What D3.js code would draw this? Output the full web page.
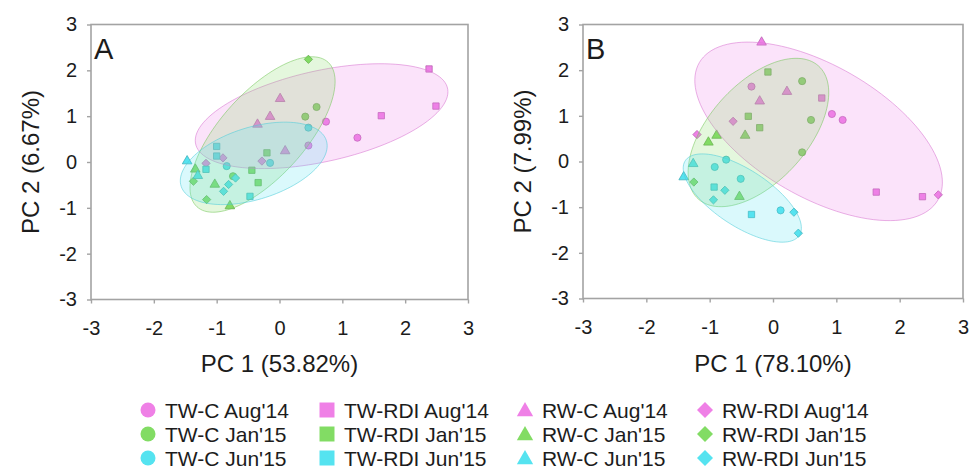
<!DOCTYPE html>
<html>
<head>
<meta charset="utf-8">
<script src="https://cdn.jsdelivr.net/npm/d3@7"></script>
<style>
  body { margin: 0; background: #fff; }
  text { font-family: "Liberation Sans", Arial, sans-serif; fill: #1c1c1c; }
</style>
</head>
<body>
<svg id="chart" width="973" height="473"></svg>
<script>
const groups = ["TW-C", "TW-RDI", "RW-C", "RW-RDI"];
const dates = ["Aug'14", "Jan'15", "Jun'15"];
const ticks = [-3, -2, -1, 0, 1, 2, 3];
const dateColors = ["#ef80e6", "#82dc64", "#55e3f0"];

// [group, date, PC1, PC2]
const scoresA = [
  ["TW-C", "Aug'14", 1.24, 0.53], ["TW-C", "Aug'14", 0.74, 0.88], ["TW-C", "Aug'14", 0.46, 0.36],
  ["TW-RDI", "Aug'14", 2.38, 2.03], ["TW-RDI", "Aug'14", 2.49, 1.22], ["TW-RDI", "Aug'14", 1.62, 1.01],
  ["RW-C", "Aug'14", 0.01, 1.38], ["RW-C", "Aug'14", -0.15, 0.99], ["RW-C", "Aug'14", -0.35, 0.82], ["RW-C", "Aug'14", 0.09, 0.24],
  ["RW-RDI", "Aug'14", -0.28, 0.02], ["RW-RDI", "Aug'14", -0.90, 0.09], ["RW-RDI", "Aug'14", -1.17, -0.03],
  ["TW-C", "Jan'15", 0.59, 1.20], ["TW-C", "Jan'15", 0.41, 0.99], ["TW-C", "Jan'15", -0.74, -0.31],
  ["TW-RDI", "Jan'15", -0.20, 0.20], ["TW-RDI", "Jan'15", -0.44, -0.18], ["TW-RDI", "Jan'15", -0.34, -0.45],
  ["RW-C", "Jan'15", -0.79, -0.96], ["RW-C", "Jan'15", -1.03, -0.49], ["RW-C", "Jan'15", -1.34, -0.16],
  ["RW-RDI", "Jan'15", 0.46, 2.24], ["RW-RDI", "Jan'15", -1.37, -0.42], ["RW-RDI", "Jan'15", -1.16, -0.82],
  ["TW-C", "Jun'15", -0.84, -0.09], ["TW-C", "Jun'15", -0.15, -0.02], ["TW-C", "Jun'15", 0.46, 0.75],
  ["TW-RDI", "Jun'15", -1.00, 0.34], ["TW-RDI", "Jun'15", -1.00, 0.13], ["TW-RDI", "Jun'15", -1.17, -0.16], ["TW-RDI", "Jun'15", -0.47, -0.75],
  ["RW-C", "Jun'15", -1.47, 0.02], ["RW-C", "Jun'15", -1.30, -0.30],
  ["RW-RDI", "Jun'15", -0.89, -0.64], ["RW-RDI", "Jun'15", -0.81, -0.49], ["RW-RDI", "Jun'15", -0.70, -0.35]
];

const scoresB = [
  ["TW-C", "Aug'14", -0.34, 1.64], ["TW-C", "Aug'14", 0.93, 1.04], ["TW-C", "Aug'14", 1.10, 0.91],
  ["TW-RDI", "Aug'14", 0.77, 1.39], ["TW-RDI", "Aug'14", 1.63, -0.67], ["TW-RDI", "Aug'14", 2.36, -0.77],
  ["RW-C", "Aug'14", -0.18, 2.61], ["RW-C", "Aug'14", 0.22, 1.53], ["RW-C", "Aug'14", -0.21, 1.32],
  ["RW-RDI", "Aug'14", -0.63, 0.88], ["RW-RDI", "Aug'14", -1.20, 0.59], ["RW-RDI", "Aug'14", 2.61, -0.73],
  ["TW-C", "Jan'15", 0.46, 1.76], ["TW-C", "Jan'15", 0.60, 0.91], ["TW-C", "Jan'15", 0.46, 0.20],
  ["TW-RDI", "Jan'15", -0.08, 1.96], ["TW-RDI", "Jan'15", -0.39, 0.99], ["TW-RDI", "Jan'15", -0.21, 0.74],
  ["RW-C", "Jan'15", -0.44, 0.57], ["RW-C", "Jan'15", -0.89, 0.57], ["RW-C", "Jan'15", -1.02, 0.42], ["RW-C", "Jan'15", -0.53, -0.77],
  ["RW-RDI", "Jan'15", -1.25, -0.45],
  ["TW-C", "Jun'15", -0.92, -0.12], ["TW-C", "Jun'15", -0.74, 0.04], ["TW-C", "Jun'15", -0.51, -0.38], ["TW-C", "Jun'15", 0.12, -1.07],
  ["TW-RDI", "Jun'15", -0.93, -0.56], ["TW-RDI", "Jun'15", -0.34, -1.16],
  ["RW-C", "Jun'15", -1.41, -0.34], ["RW-C", "Jun'15", -1.26, -0.05],
  ["RW-RDI", "Jun'15", -0.76, -0.63], ["RW-RDI", "Jun'15", -0.94, -0.84], ["RW-RDI", "Jun'15", 0.33, -1.11], ["RW-RDI", "Jun'15", 0.40, -1.57]
];

// [date, centre PC1, centre PC2, semi-major, semi-minor, angle in degrees]
const ellipsesA = [
  ["Aug'14", 0.67, 1.00, 2.10, 0.97, 19],
  ["Jan'15", -0.27, 0.60, 1.91, 0.75, 60],
  ["Jun'15", -0.41, -0.03, 1.27, 0.75, 29]
];
const ellipsesB = [
  ["Aug'14", 0.72, 0.66, 2.45, 1.28, -45],
  ["Jan'15", -0.23, 0.635, 1.77, 0.86, 63],
  ["Jun'15", -0.485, -0.80, 1.23, 0.54, -46.5]
];

const svg = d3.select("#chart");
const color = d3.scaleOrdinal().domain(dates).range(dateColors);
const shape = d3.scaleOrdinal().domain(groups)
  .range([d3.symbolCircle, d3.symbolSquare, d3.symbolTriangle, d3.symbolSquare]);
const turn = g => g === "RW-RDI" ? 45 : 0;

function panel(opts) {
  const x = d3.scaleLinear().domain([-3, 3]).range([opts.left, opts.right]);
  const y = d3.scaleLinear().domain([-3, 3]).range([opts.bottom, opts.top]);
  const g = svg.append("g");

  // points under the ellipses
  g.selectAll("path.pt")
    .data(opts.scores)
    .enter().append("path")
    .attr("class", "pt")
    .attr("d", d => d3.symbol(shape(d[0]), d[0] === "RW-RDI" ? 34 : 40)())
    .attr("transform", d => "translate(" + x(d[2]) + "," + y(d[3]) + ") rotate(" + turn(d[0]) + ")")
    .attr("fill", d => color(d[1]))
    .attr("stroke", d => d3.color(color(d[1])).darker(0.7))
    .attr("stroke-width", 0.8);

  const line = d3.line().x(p => x(p[0])).y(p => y(p[1])).curve(d3.curveLinearClosed);
  g.selectAll("path.ell")
    .data(opts.ellipses)
    .enter().append("path")
    .attr("class", "ell")
    .attr("d", e => {
      const th = e[5] * Math.PI / 180, pts = [];
      for (let i = 0; i < 120; i++) {
        const t = i / 120 * 2 * Math.PI;
        pts.push([e[1] + e[3] * Math.cos(t) * Math.cos(th) - e[4] * Math.sin(t) * Math.sin(th),
                  e[2] + e[3] * Math.cos(t) * Math.sin(th) + e[4] * Math.sin(t) * Math.cos(th)]);
      }
      return line(pts);
    })
    .attr("fill", e => color(e[0]))
    .attr("fill-opacity", 0.22)
    .attr("stroke", e => d3.color(color(e[0])).darker(0.3))
    .attr("stroke-opacity", 0.55)
    .attr("stroke-width", 1);

  g.append("rect")
    .attr("x", opts.left).attr("y", opts.top)
    .attr("width", opts.right - opts.left).attr("height", opts.bottom - opts.top)
    .attr("fill", "none").attr("stroke", "#a3a3a3").attr("stroke-width", 1.6);

  // plain hyphen for negatives, as in the original figure
  const fmt = d => String(d);
  const ax = g.append("g").attr("transform", "translate(0," + opts.bottom + ")")
    .call(d3.axisBottom(x).tickValues(ticks).tickSize(4).tickPadding(17).tickFormat(fmt));
  const ay = g.append("g").attr("transform", "translate(" + opts.left + ",0)")
    .call(d3.axisLeft(y).tickValues(ticks).tickSize(4).tickPadding(10).tickFormat(fmt));
  [ax, ay].forEach(a => {
    a.select(".domain").remove();
    a.selectAll("line").attr("stroke", "#a3a3a3").attr("stroke-width", 1.4);
    a.selectAll("text").attr("font-size", 20).attr("font-family", null).attr("fill", "#1c1c1c");
  });

  g.append("text")
    .attr("x", (opts.left + opts.right) / 2).attr("y", 372)
    .attr("text-anchor", "middle").attr("font-size", 24)
    .text(opts.xTitle);
  g.append("text")
    .attr("transform", "translate(" + (opts.left - 52) + "," + (opts.top + opts.bottom) / 2 + ") rotate(-90)")
    .attr("text-anchor", "middle").attr("font-size", 24)
    .text(opts.yTitle);
  g.append("text")
    .attr("x", opts.left + 3).attr("y", opts.top + 34)
    .attr("font-size", 29)
    .text(opts.letter);
}

panel({ left: 91, right: 468, top: 24.5, bottom: 299.5, scores: scoresA, ellipses: ellipsesA,
        xTitle: "PC 1 (53.82%)", yTitle: "PC 2 (6.67%)", letter: "A" });
panel({ left: 583, right: 963, top: 24.5, bottom: 298.5, scores: scoresB, ellipses: ellipsesB,
        xTitle: "PC 1 (78.10%)", yTitle: "PC 2 (7.99%)", letter: "B" });

// legend: one column per group, one row per date
const legX = [148, 327, 525, 705];
const legY = [410, 434, 458];
const legSize = [177, 225, 115, 128];
const leg = svg.append("g");
groups.forEach((gname, i) => {
  dates.forEach((dname, j) => {
    leg.append("path")
      .attr("d", d3.symbol(shape(gname), legSize[i])())
      .attr("transform", "translate(" + legX[i] + "," + (legY[j] + (i === 2 ? 1.5 : 0)) + ") rotate(" + turn(gname) + ")")
      .attr("fill", color(dname));
    leg.append("text")
      .attr("x", legX[i] + 17).attr("y", legY[j] + 7.5)
      .attr("font-size", 21)
      .text(gname + " " + dname);
  });
});
</script>
</body>
</html>
